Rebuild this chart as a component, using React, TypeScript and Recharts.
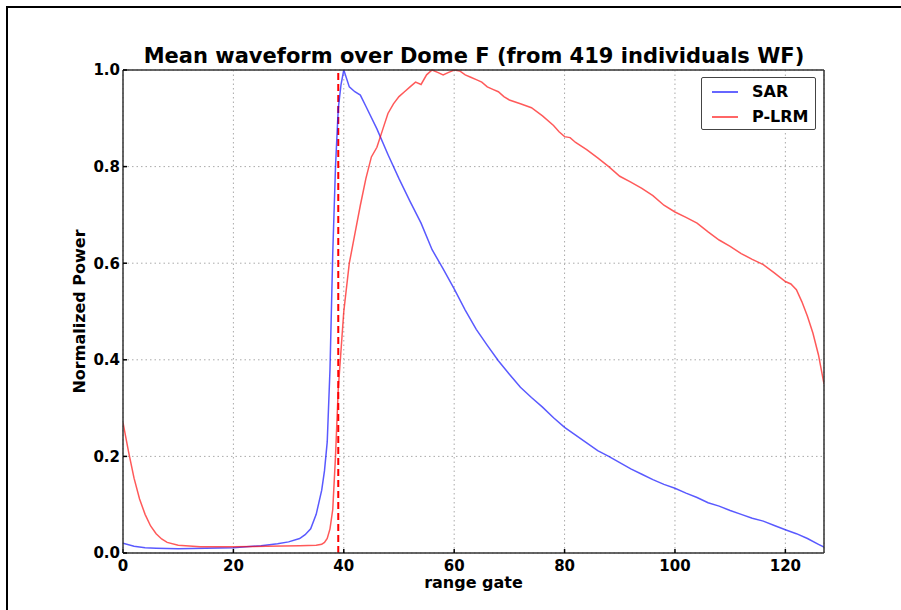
import React from 'react';
import { LineChart, Line, XAxis, YAxis, CartesianGrid, ReferenceLine } from 'recharts';

const sarGates = [0, 2, 4, 6, 10, 15, 20, 25, 28, 30, 32, 33, 34, 35, 36, 36.5, 37, 37.5, 38, 38.5, 39, 39.5, 40, 41, 42, 43, 44, 46, 48, 50, 52, 54, 56, 58, 60, 62, 64, 66, 68, 70, 72, 74, 76, 78, 80, 82, 84, 86, 88, 90, 92, 94, 96, 98, 100, 102, 104, 106, 108, 110, 112, 114, 116, 118, 120, 122, 124, 126, 127];
const sarPower = [0.02, 0.014, 0.011, 0.01, 0.009, 0.01, 0.011, 0.015, 0.019, 0.023, 0.03, 0.038, 0.05, 0.08, 0.13, 0.17, 0.23, 0.38, 0.62, 0.8, 0.92, 0.97, 1.0, 0.965, 0.955, 0.948, 0.925, 0.878, 0.825, 0.775, 0.728, 0.683, 0.628, 0.588, 0.547, 0.503, 0.463, 0.43, 0.398, 0.37, 0.343, 0.322, 0.302, 0.28, 0.26, 0.244, 0.228, 0.212, 0.2, 0.187, 0.174, 0.163, 0.152, 0.142, 0.134, 0.124, 0.115, 0.104, 0.097, 0.088, 0.08, 0.072, 0.066, 0.057, 0.048, 0.04, 0.03, 0.018, 0.012];

const lrmGates = [0, 1, 2, 3, 4, 5, 6, 7, 8, 10, 14, 20, 26, 32, 35, 36, 36.5, 37, 37.5, 38, 38.5, 39, 40, 41, 42, 43, 44, 45, 46, 47, 48, 49, 50, 51, 52, 53, 54, 55, 56, 57, 58, 59, 60, 61, 62, 63, 64, 65, 66, 67, 68, 69, 70, 72, 74, 76, 78, 79, 80, 81, 82, 84, 86, 88, 90, 92, 94, 96, 98, 100, 102, 104, 106, 108, 110, 112, 114, 116, 118, 120, 121, 122, 123, 124, 125, 126, 127];
const lrmPower = [0.27, 0.21, 0.155, 0.112, 0.08, 0.056, 0.04, 0.029, 0.022, 0.016, 0.013, 0.013, 0.014, 0.015, 0.016, 0.018, 0.022, 0.03, 0.05, 0.09, 0.2, 0.34, 0.5, 0.6, 0.66, 0.72, 0.775, 0.82, 0.84, 0.875, 0.91, 0.93, 0.945, 0.955, 0.965, 0.975, 0.97, 0.99, 1.0, 0.995, 0.99, 0.995, 1.0, 0.998, 0.99, 0.985, 0.98, 0.975, 0.965, 0.96, 0.955, 0.945, 0.938, 0.93, 0.922, 0.905, 0.885, 0.872, 0.862, 0.86, 0.85, 0.835, 0.818, 0.8, 0.78, 0.768, 0.755, 0.74, 0.72, 0.706, 0.695, 0.683, 0.665, 0.648, 0.635, 0.62, 0.608, 0.597, 0.58, 0.562, 0.557, 0.545, 0.52, 0.49, 0.455, 0.41, 0.35];

const xTicks = [0, 20, 40, 60, 80, 100, 120];
const yTicks = [0, 0.2, 0.4, 0.6, 0.8, 1.0];
const leadingEdgeGate = 39;

const sarData = sarGates.map((g, i) => ({ gate: g, value: sarPower[i] }));
const lrmData = lrmGates.map((g, i) => ({ gate: g, value: lrmPower[i] }));

const series = [
  { name: 'SAR', color: '#0000ff' },
  { name: 'P-LRM', color: '#ff0000' },
];

const font = 'DejaVu Sans';
const tickStyle = { fontSize: 15, fontWeight: 'bold', fill: '#000', fontFamily: font };
const noLabel = () => <g />;

// legend drawn by hand so it doesn't eat into the plot area
const LegendBox = () => (
  <div style={{ position: 'absolute', left: 701, top: 77, width: 115, height: 53, boxSizing: 'border-box', border: '1.5px solid #444', borderRadius: 2, background: '#fff' }}>
    {series.map((s, i) => (
      <div key={s.name} style={{ position: 'absolute', left: 0, top: 2 + i * 25, height: 24, width: 112 }}>
        <svg width={30} height={24} style={{ position: 'absolute', left: 8, top: 0 }}>
          <line x1={2} x2={28} y1={12} y2={12} stroke={s.color} strokeOpacity={0.6} strokeWidth={2} />
        </svg>
        <span style={{ position: 'absolute', left: 50, top: 2, fontFamily: font, fontWeight: 'bold', fontSize: 16, lineHeight: '20px', color: '#000' }}>{s.name}</span>
      </div>
    ))}
  </div>
);

export default function App() {
  return (
    <div style={{ position: 'fixed', left: 0, top: 0, width: 901, height: 610, background: '#fff', overflow: 'hidden', zIndex: 10 }}>
      <div style={{ position: 'absolute', left: 6, top: 6, width: 2, height: 604, background: '#000' }} />
      <div style={{ position: 'absolute', left: 6, top: 6, width: 895, height: 2, background: '#000' }} />
      <LineChart width={901} height={610} margin={{ top: 60, right: 67, bottom: 17, left: 35 }}>
        <CartesianGrid xAxisId="bottom" yAxisId="left" stroke="#aaa" strokeDasharray="1.5 3" />
        <XAxis
          xAxisId="bottom"
          dataKey="gate"
          type="number"
          domain={[0, 127]}
          ticks={xTicks}
          allowDataOverflow
          height={40}
          stroke="#333"
          strokeWidth={1.5}
          tickSize={-4}
          tickMargin={11}
          tickLine={{ stroke: '#000' }}
          tick={tickStyle}
          label={{ value: 'range gate', position: 'insideBottom', offset: 5, style: { fontSize: 16, fontWeight: 'bold', fill: '#000', fontFamily: font } }}
        />
        <XAxis
          xAxisId="top"
          orientation="top"
          type="number"
          domain={[0, 127]}
          ticks={xTicks}
          height={10}
          stroke="#333"
          strokeWidth={1.5}
          tickSize={-4}
          tickLine={{ stroke: '#000' }}
          tick={noLabel}
        />
        <YAxis
          yAxisId="left"
          type="number"
          domain={[0, 1]}
          ticks={yTicks}
          width={88}
          stroke="#333"
          strokeWidth={1.5}
          tickSize={-4}
          tickMargin={7}
          tickLine={{ stroke: '#000' }}
          tick={tickStyle}
          tickFormatter={(v: number) => v.toFixed(1)}
          label={{ value: 'Normalized Power', angle: -90, position: 'center', style: { fontSize: 16, fontWeight: 'bold', fill: '#000', fontFamily: font } }}
        />
        <YAxis
          yAxisId="right"
          orientation="right"
          type="number"
          domain={[0, 1]}
          ticks={yTicks}
          width={10}
          stroke="#333"
          strokeWidth={1.5}
          tickSize={-4}
          tickLine={{ stroke: '#000' }}
          tick={noLabel}
        />
        <ReferenceLine xAxisId="bottom" yAxisId="left" x={leadingEdgeGate} stroke="#ff0000" strokeWidth={2} strokeDasharray="7 4" />
        <Line xAxisId="bottom" yAxisId="left" data={sarData} dataKey="value" name={series[0].name} type="linear" stroke={series[0].color} strokeOpacity={0.65} strokeWidth={1.5} dot={false} isAnimationActive={false} />
        <Line xAxisId="bottom" yAxisId="left" data={lrmData} dataKey="value" name={series[1].name} type="linear" stroke={series[1].color} strokeOpacity={0.65} strokeWidth={1.5} dot={false} isAnimationActive={false} />
      </LineChart>
      <LegendBox />
      <svg width={901} height={610} style={{ position: 'absolute', left: 0, top: 0, pointerEvents: 'none' }}>
        <text x={474} y={63} textAnchor="middle" fontFamily={font} fontWeight="bold" fontSize={21} fill="#000">
          Mean waveform over Dome F (from 419 individuals WF)
        </text>
      </svg>
    </div>
  );
}
